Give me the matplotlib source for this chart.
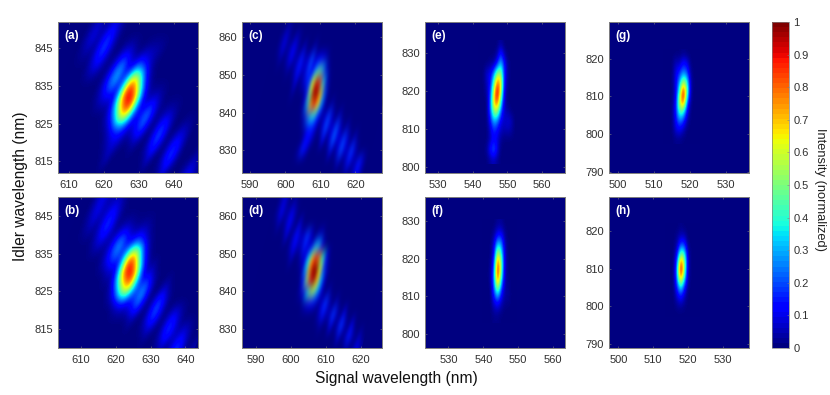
import numpy as np
import matplotlib
matplotlib.use("Agg")
import matplotlib.pyplot as plt
from matplotlib.cm import ScalarMappable
from matplotlib.colors import Normalize
from matplotlib.transforms import Affine2D

plt.rcParams['font.family'] = ['Liberation Sans', 'DejaVu Sans']

# intensities in percent, one row per idler wavelength, trailing zeros left out
# a-d are sampled along the slanted fringes: a_signal is the signal wavelength at idler = tilt_idler
a_signal = np.arange(606, 657.1, 1.5)
a_idler = [852, 848, 844, 840, 836, 832, 828, 824, 820, 816, 812]
a_rows = [
    [0,3,6,2,4,8,4],
    [0,6,10,4,10,18,8,1],
    [0,2,4,2,12,20,10,1,0,6,8,3,0,3,5,5,3],
    [0,0,0,0,5,10,5,1,6,20,28,14,12,22,14,5],
    [0,0,0,0,0,0,0,0,8,22,30,16,36,76,76,36,8],
    [0,0,0,0,0,0,0,0,2,8,10,10,40,88,100,88,40,10,4,6,3],
    [0,0,0,0,0,0,0,0,0,0,0,2,14,38,76,76,38,14,16,25,12,2,3,5,3],
    [0,0,0,0,0,0,0,0,0,0,0,0,0,6,15,20,14,6,14,22,10,0,10,20,10,0,0,4,3],
    [0,0,0,0,0,0,0,0,0,0,0,0,0,0,5,8,5,0,0,4,0,0,10,20,10,0,8,15,8],
    [0,0,0,0,0,0,0,0,0,0,0,0,0,0,0,6,0,0,0,0,0,0,0,8,0,0,10,20,10,0,0,0,5],
    [0,0,0,0,0,0,0,0,0,0,0,0,0,0,0,0,0,0,0,0,0,0,0,0,0,0,0,8,0,0,0,6,12,6],
]

b_signal = np.arange(603, 651.1, 1.5)
b_idler = [850, 846, 842, 838, 834, 830, 826, 822, 818, 814, 810]
b_rows = [
    [0,0,5,10,5,3,5,2],
    [0,0,5,11,5,8,15,8,1],
    [0,0,2,5,2,10,20,10,1,4,6,3,2,4,3],
    [0,0,0,0,0,4,8,4,6,20,30,16,14,22,14,4],
    [0,0,0,0,0,0,0,0,5,16,22,16,46,84,78,30,5],
    [0,0,0,0,0,0,0,0,0,0,5,6,36,86,100,88,34,6,8],
    [0,0,0,0,0,0,0,0,0,0,0,0,6,30,66,72,38,20,28,14,0,0,6],
    [0,0,0,0,0,0,0,0,0,0,0,0,0,0,6,12,10,16,26,12,0,10,22,10],
    [0,0,0,0,0,0,0,0,0,0,0,0,0,0,0,0,0,0,5,0,0,10,20,10,0,8,15,6],
    [0,0,0,0,0,0,0,0,0,0,0,0,0,0,0,0,0,0,0,0,0,0,4,0,0,10,20,10,5,10,4],
    [0,0,0,0,0,0,0,0,0,0,0,0,0,0,0,0,0,0,0,0,0,0,0,0,0,0,5,0,10,20,10,0,5],
]

c_signal = np.arange(594, 628.1, 1.0)
c_idler = [863, 860, 857, 854, 851, 848, 845, 842, 839, 836, 833, 830, 827, 824]
c_rows = [
    [0,0,3,1],
    [0,3,8,3,0,5,2],
    [0,3,8,3,5,12,5,0,6,0,0,5],
    [0,0,3,0,4,10,4,6,15,6,8,20,8,12,12,6],
    [0,0,0,0,0,2,0,6,14,6,7,18,10,30,46,30,8],
    [0,0,0,0,0,0,0,0,8,0,4,10,22,66,94,84,34,6],
    [0,0,0,0,0,0,0,0,2,0,0,0,10,50,98,100,72,22,2],
    [0,0,0,0,0,0,0,0,0,0,0,0,4,28,70,88,70,28,5,0,4],
    [0,0,0,0,0,0,0,0,0,0,0,0,0,6,22,36,32,14,4,7,18,7,0,6],
    [0,0,0,0,0,0,0,0,0,0,0,0,0,0,5,13,15,8,0,8,20,8,8,20,8,0,5],
    [0,0,0,0,0,0,0,0,0,0,0,0,0,0,0,10,12,5,0,0,12,0,9,22,9,8,18,8,0,6],
    [0,0,0,0,0,0,0,0,0,0,0,0,0,0,5,15,8,0,0,0,0,0,0,10,0,8,20,8,7,18,7],
    [0,0,0,0,0,0,0,0,0,0,0,0,0,0,0,0,0,0,0,0,0,0,0,0,0,0,6,0,5,14,5,6,15,6],
    [0,0,0,0,0,0,0,0,0,0,0,0,0,0,0,0,0,0,0,0,0,0,0,0,0,0,0,0,0,3,0,5,12,5],
]

d_signal = np.arange(591, 625.1, 1.0)
d_idler = [864, 861, 858, 855, 852, 849, 846, 843, 840, 837, 834, 831, 828, 825]
d_rows = [
    [0,3,8,3,0,3],
    [0,4,10,4,4,10,4],
    [0,0,4,0,5,12,5,0,8],
    [0,0,0,0,0,8,0,6,14,6,7,18,8,0,5,6],
    [0,0,0,0,0,0,0,5,12,5,6,15,7,10,30,32,10],
    [0,0,0,0,0,0,0,0,5,0,0,6,10,36,72,88,72,36,10],
    [0,0,0,0,0,0,0,0,0,0,0,0,6,32,78,100,100,62,18,4],
    [0,0,0,0,0,0,0,0,0,0,0,0,0,12,48,88,98,74,32,7],
    [0,0,0,0,0,0,0,0,0,0,0,0,0,3,10,34,52,48,26,8,0,4],
    [0,0,0,0,0,0,0,0,0,0,0,0,0,0,0,5,10,12,8,3,8,18,6,0,5],
    [0,0,0,0,0,0,0,0,0,0,0,0,0,0,0,0,0,0,0,0,6,14,5,7,18,7,0,10],
    [0,0,0,0,0,0,0,0,0,0,0,0,0,0,0,0,0,0,0,0,0,3,0,0,10,0,7,18,7,0,10],
    [0,0,0,0,0,0,0,0,0,0,0,0,0,0,0,0,0,0,0,0,0,0,0,0,0,0,0,8,0,6,15,6,0,6],
    [0,0,0,0,0,0,0,0,0,0,0,0,0,0,0,0,0,0,0,0,0,0,0,0,0,0,0,0,0,0,4,0,4,10,4],
]

e_signal = np.arange(542, 554, 1.0)
e_idler = [832, 829.5, 827, 824.5, 822, 819.5, 817, 814.5, 812, 809.5, 807, 804.5, 802]
e_rows = [
    [0,0,0,0,0,0,3],
    [0,0,0,0,0,3,18,4],
    [0,0,0,2,3,14,34,14,2],
    [0,0,8,10,24,52,56,14,2],
    [0,0,5,12,42,84,70,12,1],
    [0,0,3,16,60,100,62,8],
    [0,0,0,20,68,88,42,5],
    [0,0,0,20,52,54,22,5,4],
    [0,0,0,12,30,24,10,6,8,6],
    [0,0,0,6,16,12,5,4,5,3],
    [0,0,0,5,12,8,2],
    [0,0,2,14,24,10],
    [0,0,0,3,5,2],
]

f_signal = np.arange(540, 550, 1.0)
f_idler = [829, 826.5, 824, 821.5, 819, 816.5, 814, 811.5, 809, 806.5, 804]
f_rows = [
    [0,0,0,0,2,2],
    [0,0,0,2,10,10,2],
    [0,0,0,8,30,26,4],
    [0,0,0,12,58,38,6],
    [0,0,1,18,88,50,6],
    [0,0,2,26,100,48,5],
    [0,0,2,28,84,36,3,1],
    [0,0,0,22,50,18,3,2],
    [0,0,0,12,20,8,2,2],
    [0,0,0,4,5,2],
    [0,0,0,1,1],
]

g_signal = np.arange(513, 523, 1.0)
g_idler = [821, 818.5, 816, 813.5, 811, 808.5, 806, 803.5, 801, 798.5]
g_rows = [
    [0,0,0,0,0,1],
    [0,0,0,6,5,14,10],
    [0,0,0,10,16,26,20,2],
    [0,0,0,10,28,58,40,3],
    [0,0,0,8,44,100,48,2],
    [0,0,0,12,60,92,26,1],
    [0,0,1,14,48,44,10],
    [0,0,0,12,26,18,4],
    [0,0,0,8,10,5],
    [0,0,0,1,1],
]

h_signal = np.arange(514, 524, 1.0)
h_idler = [821, 818.5, 816, 813.5, 811, 808.5, 806, 803.5, 801, 798.5]
h_rows = [
    [0,0,0,0,1],
    [0,0,0,2,6,6],
    [0,0,0,5,24,22,2],
    [0,0,0,14,58,48,6],
    [0,0,0,26,100,58,6],
    [0,0,0,30,94,48,4],
    [0,0,0,20,50,22,2],
    [0,0,0,10,20,8],
    [0,0,0,3,5,2],
    [0],
]

labels = ['(a)', '(b)', '(c)', '(d)', '(e)', '(f)', '(g)', '(h)']
signals = [a_signal, b_signal, c_signal, d_signal, e_signal, f_signal, g_signal, h_signal]
idlers = [a_idler, b_idler, c_idler, d_idler, e_idler, f_idler, g_idler, h_idler]
rows = [a_rows, b_rows, c_rows, d_rows, e_rows, f_rows, g_rows, h_rows]
tilts = [0.5, 0.45, 0.28, 0.27, 0, 0, 0, 0]
tilt_idler = [832, 830.6, 845.5, 845.5, 820, 817, 810, 810]
xlims = [(606.8, 647), (603.4, 643.6), (587.6, 627.6), (586, 626),
         (526.3, 566.5), (523.2, 563.4), (497.5, 536.4), (497.2, 537.6)]
ylims = [(812, 851.8), (810, 850.2), (824, 864), (825, 865.2),
         (798.5, 838.2), (796.3, 836.4), (789.7, 829.6), (789, 829.2)]
xticks = [[610, 620, 630, 640]] * 2 + [[590, 600, 610, 620]] * 2 + [[530, 540, 550, 560]] * 2 + [[500, 510, 520, 530]] * 2
yticks = [[815, 825, 835, 845]] * 2 + [[830, 840, 850, 860]] * 2 + [[800, 810, 820, 830]] * 2 + [[790, 800, 810, 820]] * 2

W, H = 830, 395
fig = plt.figure(figsize=(W / 100, H / 100), dpi=100)
cmap = plt.get_cmap('jet', 64)
norm = Normalize(0, 1)
edge = '#808080'
text_col = '#303030'


def px_axes(x0, y0, x1, y1):
    return fig.add_axes([x0 / W, 1 - y1 / H, (x1 - x0) / W, (y1 - y0) / H])


lefts = [57.7, 57.7, 241.7, 241.7, 424.7, 424.7, 608.7, 608.7]
tops = [22.3, 197, 22.3, 197, 22.3, 197, 22.3, 197]
for i in range(8):
    ax = px_axes(lefts[i], tops[i], lefts[i] + 140.3, tops[i] + 150.5)
    sx = signals[i]
    sy = idlers[i]
    z = np.zeros((len(sy), len(sx)))
    for r, row in enumerate(rows[i]):
        z[r, :len(row)] = np.array(row) / 100
    dx = sx[1] - sx[0]
    dy = sy[0] - sy[1]
    ax.set_facecolor(cmap(0))
    im = ax.imshow(z, cmap=plt.get_cmap('jet', 256), norm=norm, aspect='auto', interpolation='bicubic',
                   extent=[sx[0] - dx / 2, sx[-1] + dx / 2, sy[-1] - dy / 2, sy[0] + dy / 2])
    # slant the sampled grid so the columns follow the fringes
    k = tilts[i]
    shear = Affine2D(np.array([[1, k, -k * tilt_idler[i]], [0, 1, 0], [0, 0, 1]], dtype=float))
    im.set_transform(shear + ax.transData)
    ax.set_xlim(xlims[i])
    ax.set_ylim(ylims[i])
    ax.set_xticks(xticks[i])
    ax.set_yticks(yticks[i])
    ax.tick_params(direction='in', length=1.5, width=0.4, color=edge, labelcolor=text_col,
                   labelsize=8, top=True, right=True)
    ax.tick_params(axis='x', pad=5.5)
    ax.tick_params(axis='y', pad=3.2)
    for s in ax.spines.values():
        s.set_color(edge)
        s.set_linewidth(0.7)
    ax.text(0.05, 0.91, labels[i], transform=ax.transAxes, color='white',
            fontsize=8.5, fontweight='bold', va='center')

cax = px_axes(772.3, 22, 789, 348)
cb = fig.colorbar(ScalarMappable(norm=norm, cmap=cmap), cax=cax)
cb.set_ticks(np.arange(0, 1.01, 0.1))
cb.set_ticklabels(['0', '0.1', '0.2', '0.3', '0.4', '0.5', '0.6', '0.7', '0.8', '0.9', '1'])
cb.ax.tick_params(direction='in', length=1.5, width=0.4, color=edge, labelcolor=text_col,
                  labelsize=8, pad=3)
cb.outline.set_edgecolor(edge)
cb.outline.set_linewidth(0.5)

fig.text(396 / W, 1 - 379 / H, 'Signal wavelength (nm)', ha='center', va='center',
         fontsize=11.2, color='#111111')
fig.text(20 / W, 1 - 186 / H, 'Idler wavelength (nm)', rotation=90, ha='center', va='center',
         fontsize=11.2, color='#111111')
fig.text(820 / W, 1 - 189 / H, 'Intensity (normalized)', rotation=270, ha='center', va='center',
         fontsize=9.3, color='#222222')

fig.savefig('out.png', dpi=100)
